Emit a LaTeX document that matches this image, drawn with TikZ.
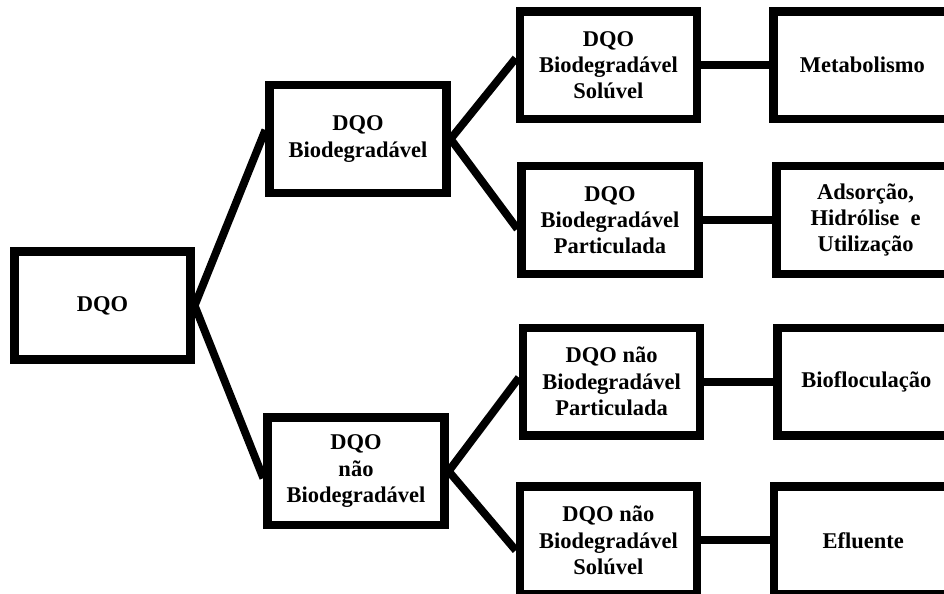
\documentclass[tikz,border=0pt]{standalone}
\usepackage{fontspec}
\setmainfont{Liberation Serif}
\usepackage{tikz}

\begin{document}
\begin{tikzpicture}[
  font=\bfseries\fontsize{16}{18.7}\selectfont,
  box/.style={draw, line width=6pt, minimum width=4.42cm, minimum height=2.69cm, align=center, inner sep=2pt},
  link/.style={line width=5.6pt}
]
\useasboundingbox (0,0) rectangle (23.6,14.85);
\clip (0,0) rectangle (23.6,14.85);

\node[box, minimum width=4.4cm, minimum height=2.7cm] (dqo) at (2.56,7.21) {DQO};

\node[box] (bio) at (8.95,11.375) {DQO\\Biodegradável};
\node[box] (nbio) at (8.9,3.07) {DQO\\não\\Biodegradável};

\node[box] (bsol) at (15.21,13.22) {DQO\\Biodegradável\\Solúvel};
\node[box] (bpart) at (15.25,9.35) {DQO\\Biodegradável\\Particulada};
\node[box] (npart) at (15.29,5.31) {DQO não\\Biodegradável\\Particulada};
\node[box] (nsol) at (15.21,1.34) {DQO não\\Biodegradável\\Solúvel};

\node[box, minimum width=4.45cm] (metab) at (21.56,13.22) {Metabolismo};
\node[box, minimum width=4.45cm] (adsor) at (21.64,9.35) {Adsorção,\\Hidrólise\ \ e\\Utilização};
\node[box, minimum width=4.45cm] (biofloc) at (21.66,5.31) {Biofloculação};
\node[box, minimum width=4.45cm] (eflu) at (21.58,1.34) {Efluente};

\draw[link] ([yshift=0.225cm]bio.west) -- (dqo.east) -- ([yshift=-0.175cm]nbio.west);
\draw[link] ([yshift=0.175cm]bsol.west) -- (bio.east) -- ([yshift=-0.225cm]bpart.west);
\draw[link] ([yshift=0.1cm]npart.west) -- (nbio.east) -- ([yshift=-0.25cm]nsol.west);

\draw[link] (bsol.east) -- (metab.west);
\draw[link] (bpart.east) -- (adsor.west);
\draw[link] (npart.east) -- (biofloc.west);
\draw[link] (nsol.east) -- (eflu.west);
\end{tikzpicture}
\end{document}
